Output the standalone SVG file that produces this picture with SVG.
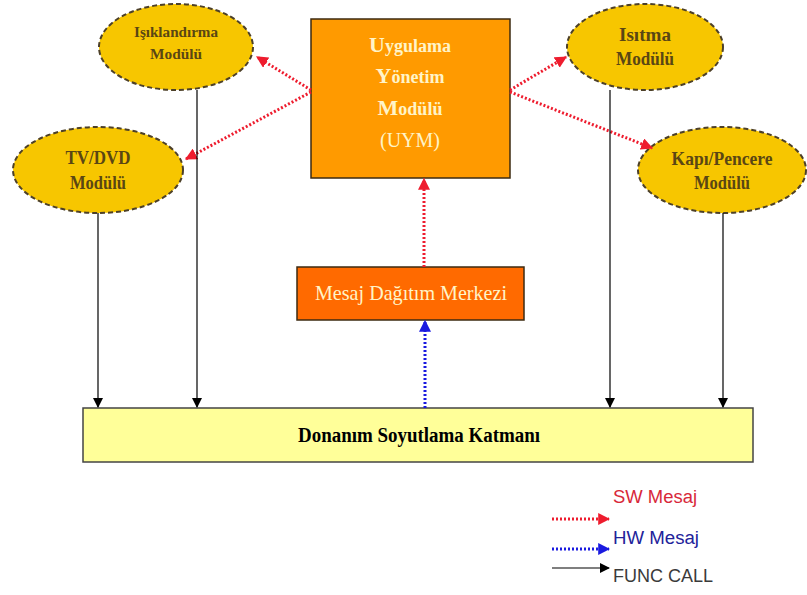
<svg xmlns="http://www.w3.org/2000/svg" width="807" height="595" viewBox="0 0 807 595">
<defs>
<marker id="ar" viewBox="0 0 10 10" refX="9" refY="5" markerWidth="4" markerHeight="4" orient="auto" markerUnits="strokeWidth"><path d="M0,0 L10,5 L0,10 z" fill="#ee1c2e"/></marker>
<marker id="ab" viewBox="0 0 10 10" refX="9" refY="5" markerWidth="4" markerHeight="4" orient="auto" markerUnits="strokeWidth"><path d="M0,0 L10,5 L0,10 z" fill="#1a1ae0"/></marker>
<marker id="ak" viewBox="0 0 10 10" refX="9" refY="5" markerWidth="10" markerHeight="10" orient="auto" markerUnits="userSpaceOnUse"><path d="M0,0 L10,5 L0,10 z" fill="#000"/></marker>
</defs>
<style>
.ell{fill:#f7c600;stroke:#4d4028;stroke-width:2;stroke-dasharray:5,3}
.et{font-family:"Liberation Serif","Times New Roman",serif;font-weight:bold;fill:#5a4614;text-anchor:middle}
.wt{font-family:"Liberation Serif","Times New Roman",serif;font-weight:bold;fill:#fff4c8;text-anchor:middle}
.wn{font-family:"Liberation Serif","Times New Roman",serif;font-weight:normal;fill:#fff4c8;text-anchor:middle}
.sw{fill:none;stroke:#ee1c2e;stroke-width:3;stroke-dasharray:2,2}
.hw{fill:none;stroke:#1a1ae0;stroke-width:3;stroke-dasharray:2,2}
.fc{fill:none;stroke:#000;stroke-width:1.2}
.lg{font-family:"Liberation Sans",Arial,sans-serif;font-size:18px}
</style>
<rect width="807" height="595" fill="#fff"/>
<g id="isiklandirma">
<ellipse class="ell" cx="176" cy="47" rx="77" ry="43"/>
<text class="et" x="176" y="37" font-size="15" textLength="84" lengthAdjust="spacingAndGlyphs">Işıklandırma</text>
<text class="et" x="176" y="59" font-size="15" textLength="52" lengthAdjust="spacingAndGlyphs">Modülü</text>
</g>
<g id="tvdvd">
<ellipse class="ell" cx="98" cy="170" rx="85" ry="43"/>
<text class="et" x="98" y="164" font-size="19" textLength="65" lengthAdjust="spacingAndGlyphs">TV/DVD</text>
<text class="et" x="98" y="189" font-size="19" textLength="56" lengthAdjust="spacingAndGlyphs">Modülü</text>
</g>
<g id="isitma">
<ellipse class="ell" cx="645" cy="47" rx="78" ry="43"/>
<text class="et" x="645" y="41" font-size="19" textLength="52" lengthAdjust="spacingAndGlyphs">Isıtma</text>
<text class="et" x="645" y="65" font-size="19" textLength="58" lengthAdjust="spacingAndGlyphs">Modülü</text>
</g>
<g id="kapipencere">
<ellipse class="ell" cx="722" cy="170" rx="84" ry="43"/>
<text class="et" x="722" y="165" font-size="19" textLength="101" lengthAdjust="spacingAndGlyphs">Kapı/Pencere</text>
<text class="et" x="722" y="189" font-size="19" textLength="56" lengthAdjust="spacingAndGlyphs">Modülü</text>
</g>
<g id="uym">
<rect x="311" y="19" width="199" height="159" fill="#ff9a00" stroke="#3d2a10" stroke-width="1.5"/>
<text class="wt" x="410" y="52" font-size="18"><tspan font-size="22">U</tspan>ygulama</text>
<text class="wt" x="410" y="83" font-size="18"><tspan font-size="22">Y</tspan>önetim</text>
<text class="wt" x="410" y="115" font-size="18"><tspan font-size="22">M</tspan>odülü</text>
<text class="wn" x="410" y="147" font-size="20">(UYM)</text>
</g>
<g id="mdm">
<rect x="297" y="267" width="227" height="53" fill="#ff6a00" stroke="#3d2a10" stroke-width="1.5"/>
<text class="wn" x="411" y="300" font-size="21" textLength="192" lengthAdjust="spacingAndGlyphs">Mesaj Dağıtım Merkezi</text>
</g>
<g id="dsk">
<rect x="83" y="408" width="670" height="54" fill="#ffff99" stroke="#444" stroke-width="1.5"/>
<text x="419" y="442" font-family="&quot;Liberation Serif&quot;,serif" font-weight="bold" font-size="20" text-anchor="middle" fill="#000" textLength="242" lengthAdjust="spacingAndGlyphs">Donanım Soyutlama Katmanı</text>
</g>
<g id="connectors">
<line class="sw" x1="311" y1="90" x2="257" y2="57" marker-end="url(#ar)"/>
<line class="sw" x1="311" y1="92" x2="186" y2="159" marker-end="url(#ar)"/>
<line class="sw" x1="510" y1="90" x2="566" y2="57" marker-end="url(#ar)"/>
<line class="sw" x1="510" y1="92" x2="652" y2="148" marker-end="url(#ar)"/>
<line class="sw" x1="424" y1="267" x2="424" y2="179" marker-end="url(#ar)"/>
<line class="hw" x1="425" y1="408" x2="425" y2="321" marker-end="url(#ab)"/>
<line class="fc" x1="98" y1="213" x2="98" y2="407" marker-end="url(#ak)"/>
<line class="fc" x1="197" y1="90" x2="197" y2="407" marker-end="url(#ak)"/>
<line class="fc" x1="610" y1="90" x2="610" y2="407" marker-end="url(#ak)"/>
<line class="fc" x1="723" y1="213" x2="723" y2="407" marker-end="url(#ak)"/>
</g>
<g id="legend">
<text class="lg" x="613" y="503" fill="#d8283a" textLength="84" lengthAdjust="spacingAndGlyphs">SW Mesaj</text>
<line class="sw" x1="552" y1="519" x2="609" y2="519" marker-end="url(#ar)"/>
<text class="lg" x="613" y="544" fill="#22229a" textLength="86" lengthAdjust="spacingAndGlyphs">HW Mesaj</text>
<line class="hw" x1="552" y1="549" x2="609" y2="549" marker-end="url(#ab)"/>
<line class="fc" x1="552" y1="568" x2="609" y2="568" marker-end="url(#ak)"/>
<text class="lg" x="613" y="582" fill="#3a3a3a" textLength="100" lengthAdjust="spacingAndGlyphs">FUNC CALL</text>
</g>
</svg>
